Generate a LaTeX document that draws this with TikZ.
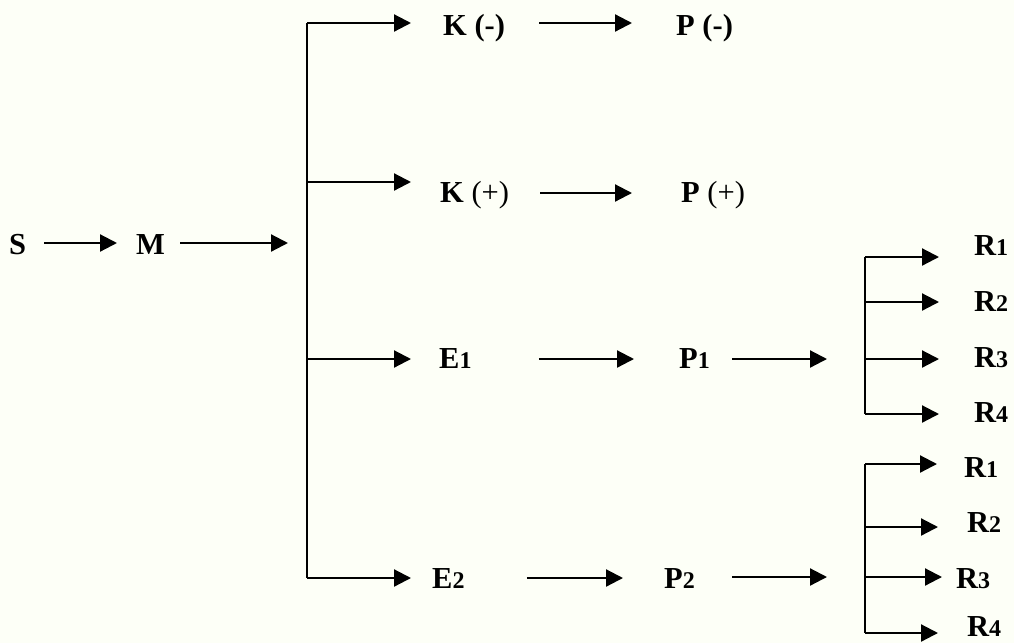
\documentclass[tikz,border=0pt]{standalone}
\usepackage{fontspec}
\setmainfont{Liberation Serif}
\usetikzlibrary{arrows.meta}
\definecolor{bgcream}{RGB}{253,255,247}
\newcommand{\sm}[1]{{\fontsize{24}{24}\selectfont #1}}
\begin{document}
\begin{tikzpicture}[x=1pt,y=-1pt,
  lab/.style={inner sep=0pt, text height=21pt, text depth=0pt, anchor=west,
    font=\fontsize{30.5}{30.5}\selectfont\bfseries},
  arr/.style={line width=2.2pt, -{Triangle[length=17pt,width=17pt]}},
  ln/.style={line width=2.2pt}]
\fill[bgcream] (0,0) rectangle (1014,643);
\useasboundingbox (0,0) rectangle (1014,643);
% labels
\node[lab] (S) at (9,244) {S};
\node[lab] (M) at (136,244) {M};
\node[lab] (Km) at (443,25) {K (-)};
\node[lab] (Pm) at (676,25) {P (-)};
\node[lab] (Kp) at (440,192) {K \mdseries(+)};
\node[lab] (Pp) at (681,192) {P \mdseries(+)};
\node[lab] (E1) at (439,358) {E\sm{1}};
\node[lab] (P1) at (679,358) {P\sm{1}};
\node[lab] (E2) at (432,578) {E\sm{2}};
\node[lab] (P2) at (664,578) {P\sm{2}};
\node[lab] (Ra1) at (974,245) {R\sm{1}};
\node[lab] (Ra2) at (974,301) {R\sm{2}};
\node[lab] (Ra3) at (974,357) {R\sm{3}};
\node[lab] (Ra4) at (974,412) {R\sm{4}};
\node[lab] (Rb1) at (964,467) {R\sm{1}};
\node[lab] (Rb2) at (967,522) {R\sm{2}};
\node[lab] (Rb3) at (956,578) {R\sm{3}};
\node[lab] (Rb4) at (967,626) {R\sm{4}};
% junctions
\coordinate (J1) at (307,23);
\coordinate (J2) at (307,182);
\coordinate (J3) at (307,359);
\coordinate (J4) at (307,578);
\coordinate (A1) at (865,257);
\coordinate (A2) at (865,302);
\coordinate (A3) at (865,359);
\coordinate (A4) at (865,414);
\coordinate (B1) at (865,464);
\coordinate (B2) at (865,527);
\coordinate (B3) at (865,577);
\coordinate (B4) at (865,633);
\coordinate (Mend) at (288,243);
\coordinate (Kpy) at (540,193);
\coordinate (P1end) at (827,359);
\coordinate (P2end) at (827,577);
% main trunk
\draw[arr] ([xshift=18pt]S.east |- Mend) -- ([xshift=-19pt]M.west |- Mend);
\draw[arr] ([xshift=15pt]M.east |- Mend) -- (Mend);
\draw[ln] (J1) -- (J4);
\draw[arr] (J1) -- ([xshift=-32pt]Km.west |- J1);
\draw[arr] (J2) -- ([xshift=-29pt]Kp.west |- J2);
\draw[arr] (J3) -- ([xshift=-28pt]E1.west |- J3);
\draw[arr] (J4) -- ([xshift=-21pt]E2.west |- J4);
% middle arrows
\draw[arr] ([xshift=34pt]Km.east |- J1) -- ([xshift=-44pt]Pm.west |- J1);
\draw[arr] ([xshift=31pt]Kp.east |- Kpy) -- ([xshift=-49pt]Pp.west |- Kpy);
\draw[arr] ([xshift=67pt]E1.east |- J3) -- ([xshift=-45pt]P1.west |- J3);
\draw[arr] ([xshift=62pt]E2.east |- J4) -- ([xshift=-41pt]P2.west |- J4);
\draw[arr] ([xshift=22pt]P1.east |- P1end) -- (P1end);
\draw[arr] ([xshift=37pt]P2.east |- P2end) -- (P2end);
% R fan, top
\draw[ln] (A1) -- (A4);
\draw[arr] (A1) -- ([xshift=-35pt]Ra1.west |- A1);
\draw[arr] (A2) -- ([xshift=-35pt]Ra2.west |- A2);
\draw[arr] (A3) -- ([xshift=-35pt]Ra3.west |- A3);
\draw[arr] (A4) -- ([xshift=-35pt]Ra4.west |- A4);
% R fan, bottom
\draw[ln] (B1) -- (B4);
\draw[arr] (B1) -- ([xshift=-27pt]Rb1.west |- B1);
\draw[arr] (B2) -- ([xshift=-29pt]Rb2.west |- B2);
\draw[arr] (B3) -- ([xshift=-14pt]Rb3.west |- B3);
\draw[arr] (B4) -- ([xshift=-29pt]Rb4.west |- B4);
\end{tikzpicture}
\end{document}
